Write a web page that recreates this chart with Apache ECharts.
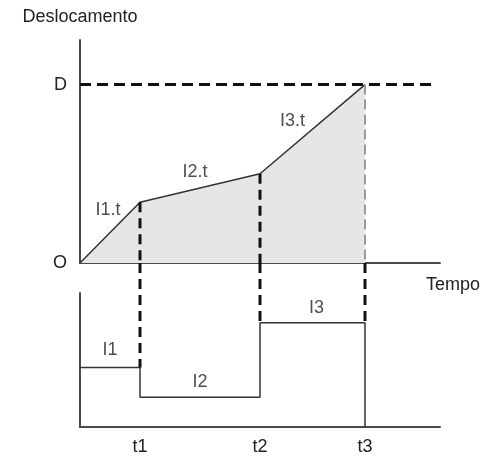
<!DOCTYPE html>
<html><head><meta charset="utf-8">
<script src="https://cdn.jsdelivr.net/npm/echarts@6/dist/echarts.min.js"></script>
<style>html,body{margin:0;padding:0;background:#fff}#c{width:488px;height:459px}</style>
</head><body><div id="c"></div>
<script>
// ---- data ----
const timeLabels = ['t1', 't2', 't3'];
const timeValues = [0, 1, 3, 4.75];          // O, t1, t2, t3
const displacement = [0, 0.34, 0.5, 1];      // O .. D
const D = 1;
const dLineEnd = 5.9;
const speeds = [2, 1, 3.5];                  // I1, I2, I3
const speedLabels = ['I1', 'I2', 'I3'];
const segmentLabels = ['I1.t', 'I2.t', 'I3.t'];
const yTopLabels = ['O', 'D'];

// ---- layout ----
const L = 80, R = 48;
const topGrid = {left: L, right: R, top: 40, height: 223};
const botGrid = {left: L, right: R, top: 293, height: 134};
const xMax = 6, yTopMax = 1.25, yBotMax = 4.5;
const gapPx = botGrid.top - (topGrid.top + topGrid.height);
const connectorTop = yBotMax + gapPx / botGrid.height * yBotMax;

const font = 'Liberation Sans, Arial, sans-serif';
const fs = 18;
const txt = '#222', axisCol = '#4a4a4a';

const dispPts = timeValues.map((t, i) => [t, displacement[i]]);
const stepPts = [];
for (let i = 0; i < speeds.length; i++) {
  stepPts.push([timeValues[i], speeds[i]]);
  stepPts.push([timeValues[i + 1], speeds[i]]);
}
stepPts.push([timeValues[3], 0]);

const segMid = [0, 1, 2].map(i => [(timeValues[i] + timeValues[i + 1]) / 2, (displacement[i] + displacement[i + 1]) / 2]);
const segOffsets = [[-2, -23], [-5, -16], [-20, -8]];
const spMid = [0, 1, 2].map(i => [(timeValues[i] + timeValues[i + 1]) / 2, speeds[i]]);
const spOffsets = [[0, -17], [0, -15], [4, -15]];

function lineSeries(xi, yi, data, color, width, type, clip) {
  return {type: 'line', xAxisIndex: xi, yAxisIndex: yi, data, symbol: 'none', silent: true,
    clip: clip !== false, animation: false,
    lineStyle: {color, width, type}};
}

const series = [
  Object.assign(lineSeries(0, 0, dispPts, '#333', 1.5, 'solid'), {areaStyle: {color: '#e6e6e6', opacity: 1}, z: 2}),
  lineSeries(0, 0, [[0, D], [dLineEnd, D]], '#111', 3, [11, 6]),
  lineSeries(0, 0, [[timeValues[1], displacement[1]], [timeValues[1], 0]], '#111', 3, [10, 6]),
  lineSeries(0, 0, [[timeValues[2], displacement[2]], [timeValues[2], 0]], '#111', 3, [10, 6]),
  lineSeries(0, 0, [[timeValues[3], displacement[3]], [timeValues[3], 0]], '#9a9a9a', 2, [10, 5]),
  lineSeries(1, 1, stepPts, '#333', 1.5, 'solid'),
  lineSeries(1, 1, [[timeValues[1], connectorTop], [timeValues[1], speeds[0]]], '#111', 3, [10, 6], false),
  lineSeries(1, 1, [[timeValues[2], connectorTop], [timeValues[2], speeds[2]]], '#111', 3, [10, 6], false),
  lineSeries(1, 1, [[timeValues[3], connectorTop], [timeValues[3], speeds[2]]], '#111', 3, [10, 6], false),
  {type: 'scatter', xAxisIndex: 0, yAxisIndex: 0, symbolSize: 0, silent: true, animation: false,
    data: segMid.map((p, i) => ({value: p, name: segmentLabels[i],
      label: {show: true, formatter: segmentLabels[i], position: 'inside', offset: segOffsets[i],
        color: txt, fontSize: fs, fontFamily: font}}))},
  {type: 'scatter', xAxisIndex: 1, yAxisIndex: 1, symbolSize: 0, silent: true, animation: false,
    data: spMid.map((p, i) => ({value: p, name: speedLabels[i],
      label: {show: true, formatter: speedLabels[i], position: 'inside', offset: spOffsets[i],
        color: txt, fontSize: fs, fontFamily: font}}))}
];

const option = {
  animation: false,
  backgroundColor: '#fff',
  grid: [topGrid, botGrid],
  xAxis: [
    {gridIndex: 0, type: 'value', min: 0, max: xMax,
      axisLine: {show: true, onZero: false, lineStyle: {color: axisCol, width: 2}},
      axisTick: {show: false}, axisLabel: {show: false}, splitLine: {show: false},
      name: 'Tempo', nameLocation: 'end', nameGap: -14,
      nameTextStyle: {color: txt, fontSize: fs, fontFamily: font, verticalAlign: 'top', align: 'left', padding: [13, 0, 0, 0]}},
    {gridIndex: 1, type: 'value', min: 0, max: xMax,
      axisLine: {show: true, onZero: false, lineStyle: {color: axisCol, width: 2}},
      axisTick: {show: false}, splitLine: {show: false},
      axisLabel: {show: true, customValues: timeValues.slice(1), margin: 11,
        formatter: v => timeLabels[timeValues.indexOf(v) - 1] || '',
        color: txt, fontSize: fs, fontFamily: font}}
  ],
  yAxis: [
    {gridIndex: 0, type: 'value', min: 0, max: yTopMax,
      axisLine: {show: true, onZero: false, lineStyle: {color: axisCol, width: 2}},
      axisTick: {show: false}, splitLine: {show: false},
      axisLabel: {show: true, customValues: [0, D], margin: 13,
        formatter: v => v === 0 ? yTopLabels[0] : (v === D ? yTopLabels[1] : ''),
        color: txt, fontSize: fs, fontFamily: font},
      name: 'Deslocamento', nameLocation: 'end', nameGap: 14,
      nameTextStyle: {color: txt, fontSize: fs, fontFamily: font, align: 'center'}},
    {gridIndex: 1, type: 'value', min: 0, max: yBotMax,
      axisLine: {show: true, onZero: false, lineStyle: {color: axisCol, width: 2}},
      axisTick: {show: false}, axisLabel: {show: false}, splitLine: {show: false}}
  ],
  series
};
const chart = echarts.init(document.getElementById('c'), null, {renderer: 'canvas'});
chart.setOption(option);
</script></body></html>
